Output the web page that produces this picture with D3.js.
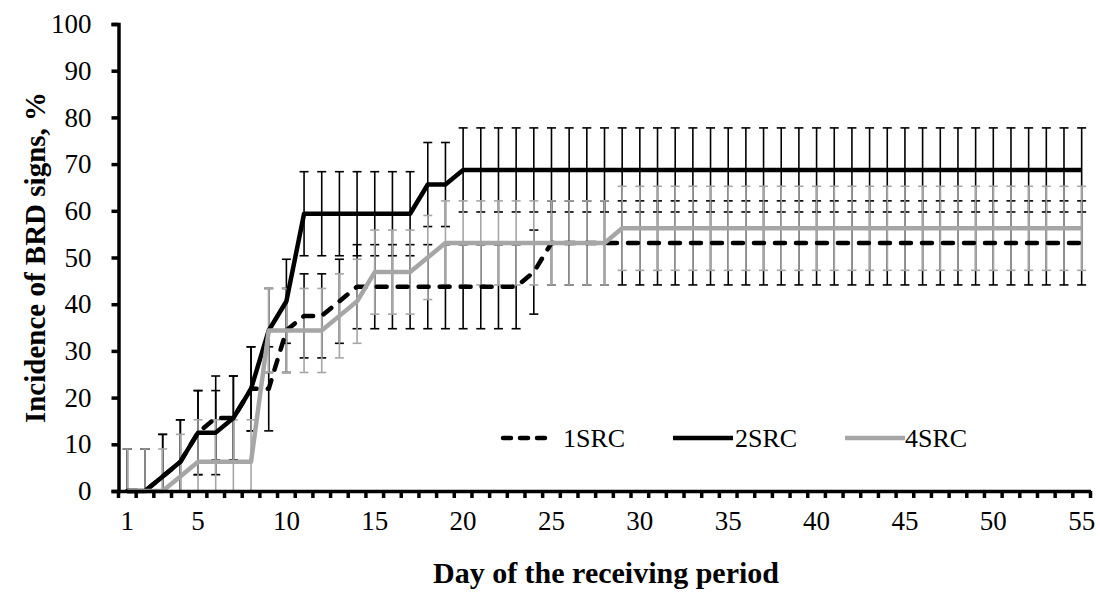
<!DOCTYPE html>
<html>
<head>
<meta charset="utf-8">
<script src="https://cdn.jsdelivr.net/npm/d3@7"></script>
<style>
  html, body { margin: 0; padding: 0; background: #fff; }
  svg { display: block; }
  svg text { font-family: "Liberation Serif", "Times New Roman", serif !important; fill: #000; }
</style>
</head>
<body>
<svg id="chart" width="1100" height="592"></svg>
<script>
// ---- data ----
const days = d3.range(1, 56);
const yTicks = [0, 10, 20, 30, 40, 50, 60, 70, 80, 90, 100];
const xTickLabels = [1, 5, 10, 15, 20, 25, 30, 35, 40, 45, 50, 55];

const src1 = [0, 0, 3.125, 6.25, 12.5, 15.625, 15.625, 21.875, 21.875, 34.375,
  37.5, 37.5, 40.625, 43.75, 43.75, 43.75, 43.75, 43.75, 43.75, 43.75,
  43.75, 43.75, 43.75, 46.875, 53.125, 53.125, 53.125, 53.125, 53.125, 53.125,
  53.125, 53.125, 53.125, 53.125, 53.125, 53.125, 53.125, 53.125, 53.125, 53.125,
  53.125, 53.125, 53.125, 53.125, 53.125, 53.125, 53.125, 53.125, 53.125, 53.125,
  53.125, 53.125, 53.125, 53.125, 53.125];
const src2 = [0, 0, 3.125, 6.25, 12.5, 12.5, 15.625, 21.875, 34.375, 40.625,
  59.375, 59.375, 59.375, 59.375, 59.375, 59.375, 59.375, 65.625, 65.625, 68.75,
  68.75, 68.75, 68.75, 68.75, 68.75, 68.75, 68.75, 68.75, 68.75, 68.75,
  68.75, 68.75, 68.75, 68.75, 68.75, 68.75, 68.75, 68.75, 68.75, 68.75,
  68.75, 68.75, 68.75, 68.75, 68.75, 68.75, 68.75, 68.75, 68.75, 68.75,
  68.75, 68.75, 68.75, 68.75, 68.75];
const src4 = [0, 0, 0, 3.125, 6.25, 6.25, 6.25, 6.25, 34.375, 34.375,
  34.375, 34.375, 37.5, 40.625, 46.875, 46.875, 46.875, 50, 53.125, 53.125,
  53.125, 53.125, 53.125, 53.125, 53.125, 53.125, 53.125, 53.125, 56.25, 56.25,
  56.25, 56.25, 56.25, 56.25, 56.25, 56.25, 56.25, 56.25, 56.25, 56.25,
  56.25, 56.25, 56.25, 56.25, 56.25, 56.25, 56.25, 56.25, 56.25, 56.25,
  56.25, 56.25, 56.25, 56.25, 56.25];
const errSE = [9, 9, 9]; // standard error (%), per series
const seriesNames = ["1SRC", "2SRC", "4SRC"];

// ---- layout ----
const FONT = '"Liberation Serif", "Times New Roman", serif';
const svg = d3.select("#chart");
const mLeft = 118.5, mRight = 1090.5, mTop = 24, mBottom = 491;
const GRAY = "#a6a6a6";

const x = d3.scaleBand().domain(days).range([mLeft, mRight]).paddingInner(0).paddingOuter(0);
const y = d3.scaleLinear().domain([0, 100]).range([mBottom, mTop]);
const cx = d => x(d) + x.bandwidth() / 2;

const series = [
  { name: seriesNames[0], values: src1, err: errSE[0], color: "#000", barColor: "#000", dash: "10,11" },
  { name: seriesNames[1], values: src2, err: errSE[1], color: "#000", barColor: "#000", dash: null },
  { name: seriesNames[2], values: src4, err: errSE[2], color: GRAY, barColor: GRAY, dash: null }
];

// ---- error bars ----
const capHalf = 4.5;
series.forEach(s => {
  const g = svg.append("g").attr("stroke", s.barColor).attr("stroke-width", 1.6).attr("fill", "none");
  days.forEach((d, i) => {
    const v = s.values[i];
    const hi = Math.min(100, v + s.err);
    const loRaw = v - s.err;
    const lo = Math.max(0, loRaw);
    const px = cx(d);
    g.append("line").attr("x1", px).attr("x2", px).attr("y1", y(lo)).attr("y2", y(hi));
    g.append("line").attr("x1", px - capHalf).attr("x2", px + capHalf).attr("y1", y(hi)).attr("y2", y(hi));
    if (loRaw >= 0) {
      g.append("line").attr("x1", px - capHalf).attr("x2", px + capHalf).attr("y1", y(lo)).attr("y2", y(lo));
    }
  });
});

// ---- lines ----
const line = d3.line().x((v, i) => cx(days[i])).y(v => y(v));
series.forEach(s => {
  const p = svg.append("path").datum(s.values)
    .attr("d", line)
    .attr("fill", "none")
    .attr("stroke", s.color)
    .attr("stroke-width", 4.5)
    .attr("stroke-linejoin", "round");
  if (s.dash) p.attr("stroke-dasharray", s.dash).attr("stroke-linecap", "round");
});

// ---- axes ----
const yAxis = d3.axisLeft(y).tickValues(yTicks).tickSize(7).tickPadding(20);
const gy = svg.append("g").attr("transform", `translate(${mLeft},0)`).call(yAxis)
  .attr("font-family", FONT).attr("font-size", 27);
gy.select(".domain").attr("stroke", "#000").attr("stroke-width", 3.5);
gy.selectAll(".tick line").attr("stroke", "#000").attr("stroke-width", 3.5);

const xAxis = d3.axisBottom(x).tickValues(xTickLabels).tickSize(0).tickPadding(20);
const gx = svg.append("g").attr("transform", `translate(0,${mBottom})`).call(xAxis)
  .attr("font-family", FONT).attr("font-size", 27);
gx.select(".domain").attr("stroke", "#000").attr("stroke-width", 3.5);
// boundary tick marks between categories
const bounds = days.map(d => x(d)).concat([x(days[days.length - 1]) + x.bandwidth()]);
svg.append("g").selectAll("line").data(bounds).join("line")
  .attr("x1", d => d).attr("x2", d => d)
  .attr("y1", mBottom).attr("y2", mBottom + 7)
  .attr("stroke", "#000").attr("stroke-width", 3.5);

// ---- titles ----
svg.append("text")
  .attr("x", 606).attr("y", 583)
  .attr("text-anchor", "middle")
  .attr("font-family", FONT)
  .style("font-size", "30px").style("font-weight", "bold")
  .text("Day of the receiving period");
svg.append("text")
  .attr("transform", `translate(45,${(mTop + mBottom) / 2}) rotate(-90)`)
  .attr("text-anchor", "middle")
  .attr("font-family", FONT)
  .style("font-size", "29px").style("font-weight", "bold")
  .text("Incidence of BRD signs, %");

// ---- legend ----
const legendItems = [
  { s: series[0], x1: 503, x2: 553, tx: 563 },
  { s: series[1], x1: 673, x2: 733, tx: 735 },
  { s: series[2], x1: 845, x2: 905, tx: 905 }
];
const lg = svg.append("g").attr("font-family", FONT);
legendItems.forEach(it => {
  const l = lg.append("line")
    .attr("x1", it.x1).attr("x2", it.x2).attr("y1", 438).attr("y2", 438)
    .attr("stroke", it.s.color).attr("stroke-width", 4.5);
  if (it.s.dash) l.attr("stroke-dasharray", "8,9").attr("stroke-linecap", "round");
  lg.append("text").attr("x", it.tx).attr("y", 447)
    .style("font-size", "26px").text(it.s.name);
});
</script>
</body>
</html>
